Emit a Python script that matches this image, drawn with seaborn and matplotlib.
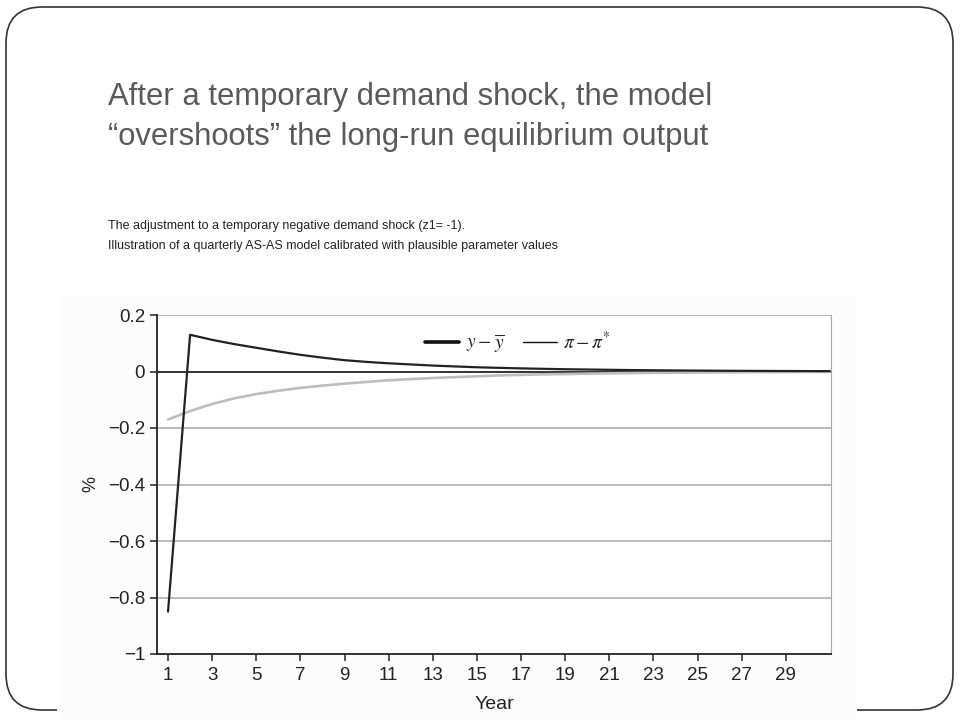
import matplotlib
matplotlib.use("Agg")
import matplotlib.pyplot as plt
from matplotlib.lines import Line2D
from matplotlib.patches import FancyBboxPatch, Rectangle
import pandas as pd
import seaborn as sns

years = list(range(1, 32))
output_gap = [-0.85, 0.13, 0.112, 0.097, 0.084, 0.071, 0.059, 0.049, 0.040, 0.034,
              0.029, 0.025, 0.021, 0.018, 0.015, 0.013, 0.011, 0.0095, 0.008, 0.007,
              0.006, 0.005, 0.0043, 0.0037, 0.0032, 0.0027, 0.0023, 0.002, 0.0017,
              0.0015, 0.0013]
inflation_gap = [-0.17, -0.14, -0.115, -0.095, -0.08, -0.068, -0.058, -0.05, -0.043,
                 -0.037, -0.031, -0.027, -0.023, -0.02, -0.017, -0.014, -0.012, -0.01,
                 -0.009, -0.0075, -0.0065, -0.0055, -0.0047, -0.004, -0.0034, -0.003,
                 -0.0025, -0.0021, -0.0018, -0.0015, -0.0013]
y_ticks = [0.2, 0, -0.2, -0.4, -0.6, -0.8, -1]
y_tick_labels = ["0.2", "0", "\u22120.2", "\u22120.4", "\u22120.6", "\u22120.8", "\u22121"]
x_ticks = list(range(1, 30, 2))

title = "After a temporary demand shock, the model\n\u201covershoots\u201d the long-run equilibrium output"
note = ("The adjustment to a temporary negative demand shock (z1= -1).\n"
        "Illustration of a quarterly AS-AS model calibrated with plausible parameter values")

df = pd.DataFrame({"year": years, "output": output_gap, "inflation": inflation_gap})

sns.set_style("white")
plt.rcParams["font.family"] = ["Liberation Sans", "DejaVu Sans"]
plt.rcParams["mathtext.fontset"] = "stix"

fig = plt.figure(figsize=(9.6, 7.2), dpi=100)

# slide background with rounded border, in pixel coordinates
bg = fig.add_axes([0, 0, 1, 1], zorder=0)
bg.set_xlim(0, 960)
bg.set_ylim(720, 0)
bg.axis("off")
bg.add_patch(FancyBboxPatch((6, 7), 947, 703, boxstyle="round,pad=0,rounding_size=36",
                            facecolor="white", edgecolor="#333333", lw=1.2))
bg.add_patch(Rectangle((57, 295), 800, 430, facecolor="#fcfcfc", edgecolor="none"))
bg.text(108, 117, title, fontsize=22.3, color="#5a5a5a", va="center", ha="left",
        linespacing=1.4)
bg.text(108, 236, note, fontsize=9, color="#222222", va="center", ha="left",
        linespacing=1.8)

ax = fig.add_axes([157 / 960, 1 - 654 / 720, 674 / 960, 339 / 720], zorder=1)
ax.set_facecolor("white")

for yv in [0.2, -0.2, -0.4, -0.6, -0.8]:
    ax.axhline(yv, color="#a8a8a8", lw=1.1, zorder=1)
ax.axhline(0, color="#111111", lw=1.2, zorder=1)

sns.lineplot(data=df, x="year", y="inflation", color="#bdbdbd", lw=1.9, ax=ax,
             legend=False, zorder=2)
sns.lineplot(data=df, x="year", y="output", color="#222222", lw=1.6, ax=ax,
             legend=False, zorder=3)

ax.set_xlim(0.5, 31.05)
ax.set_ylim(-1, 0.2)
ax.set_yticks(y_ticks)
ax.set_yticklabels(y_tick_labels)
ax.set_xticks(x_ticks)
ax.tick_params(axis="both", direction="out", length=5, width=1.1, color="#222222",
               labelsize=13.5, labelcolor="#222222", left=True, bottom=True)
ax.tick_params(axis="x", pad=4)

for side in ["left", "bottom"]:
    ax.spines[side].set_color("#222222")
    ax.spines[side].set_linewidth(1.3)
ax.spines["right"].set_color("#a8a8a8")
ax.spines["top"].set_visible(False)

ax.set_xlabel("Year", fontsize=14, color="#222222", labelpad=9)
ax.set_ylabel("%", fontsize=13, color="#222222", labelpad=6)

handles = [Line2D([], [], color="#111111", lw=2.6),
           Line2D([], [], color="#111111", lw=1.0)]
ax.legend(handles, [r"$y-\overline{y}$", r"$\pi-\pi^{*}$"], loc="upper center",
          bbox_to_anchor=(0.536, 1.005), ncol=2, frameon=False, fontsize=14,
          handlelength=1.75, columnspacing=0.9, handletextpad=0.35)

fig.savefig("out.png", dpi=100)
